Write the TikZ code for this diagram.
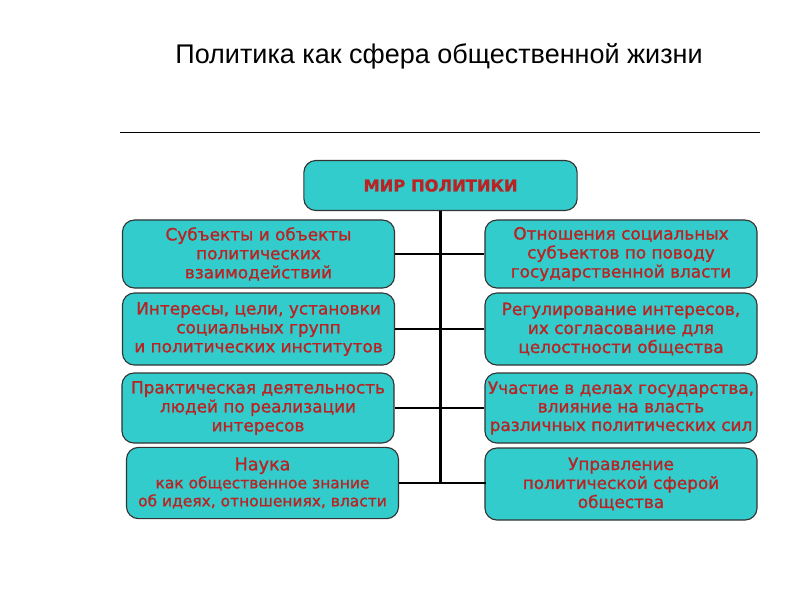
\documentclass[tikz,border=0pt]{standalone}
\usepackage{fontspec}
\usepackage{tikz}
\usetikzlibrary{positioning}
\newfontfamily\boxfont[FakeBold=1.2]{DejaVu Sans}
\newfontfamily\titlefont{Liberation Sans}
\definecolor{sphere}{RGB}{51,204,204}
\definecolor{textred}{RGB}{185,35,35}
\tikzset{block/.style={draw=black!80, line width=0.8pt, fill=sphere, rounded corners=8.5pt,
    minimum width=6.8cm, minimum height=1.75cm, inner sep=0pt, align=center,
    text=textred, font=\boxfont\fontsize{12}{13.5}\selectfont},
  link/.style={line width=1.6pt}}

\begin{document}
\begin{tikzpicture}[x=0.025cm,y=-0.025cm]
\useasboundingbox (0,0) rectangle (800,600);
\node[anchor=base, font=\titlefont\fontsize{19.2}{23}\selectfont] (title) at (439,63) {Политика как сфера общественной жизни};
\coordinate (rulel) at (120,132);
\coordinate (ruler) at (760,132);
\draw[line width=0.7pt] (rulel) -- (ruler);
\node[block, minimum width=6.83cm, minimum height=1.25cm, font=\boxfont\bfseries\fontsize{11.6}{13}\selectfont] (top) at (440.5,185.5) {МИР ПОЛИТИКИ};
\node[block, minimum height=1.7cm] (l1) at (258.5,254) {Субъекты и объекты\\политических\\взаимодействий};
\node[block, minimum height=1.8cm] (l2) at (258.5,329) {Интересы, цели, установки\\социальных групп\\и политических институтов};
\node[block] (l3) at (258,408) {Практическая деятельность\\людей по реализации\\интересов};
\node[block, minimum height=1.78cm, font=\boxfont\fontsize{11}{12.8}\selectfont] (l4) at (262.5,483) {{\fontsize{12.5}{12.8}\selectfont Наука}\\как общественное знание\\об идеях, отношениях, власти};
\node[block, minimum height=1.7cm] (r1) at (621,254) {Отношения социальных\\субъектов по поводу\\государственной власти};
\node[block, minimum height=1.8cm] (r2) at (621,329) {Регулирование интересов,\\их согласование для\\целостности общества};
\node[block, font=\boxfont\fontsize{12}{13.2}\selectfont] (r3) at (621,408) {Участие в делах государства,\\влияние на власть\\различных политических сил};
\node[block, minimum height=1.8cm] (r4) at (621,484) {Управление\\политической сферой\\общества};
\draw[link] (top.south) -- (top.south |- l4.east);
\draw[link] (l1.east) -- (l1.east -| top.south);
\draw[link] (l2.east) -- (l2.east -| top.south);
\draw[link] (l3.east) -- (l3.east -| top.south);
\draw[link] (l4.east) -- (l4.east -| top.south);
\draw[link] (r1.west) -- (r1.west -| top.south);
\draw[link] (r2.west) -- (r2.west -| top.south);
\draw[link] (r3.west) -- (r3.west -| top.south);
\draw[link] (r4.west) -- (r4.west |- l4.east) -- (l4.east -| top.south);
\end{tikzpicture}
\end{document}
